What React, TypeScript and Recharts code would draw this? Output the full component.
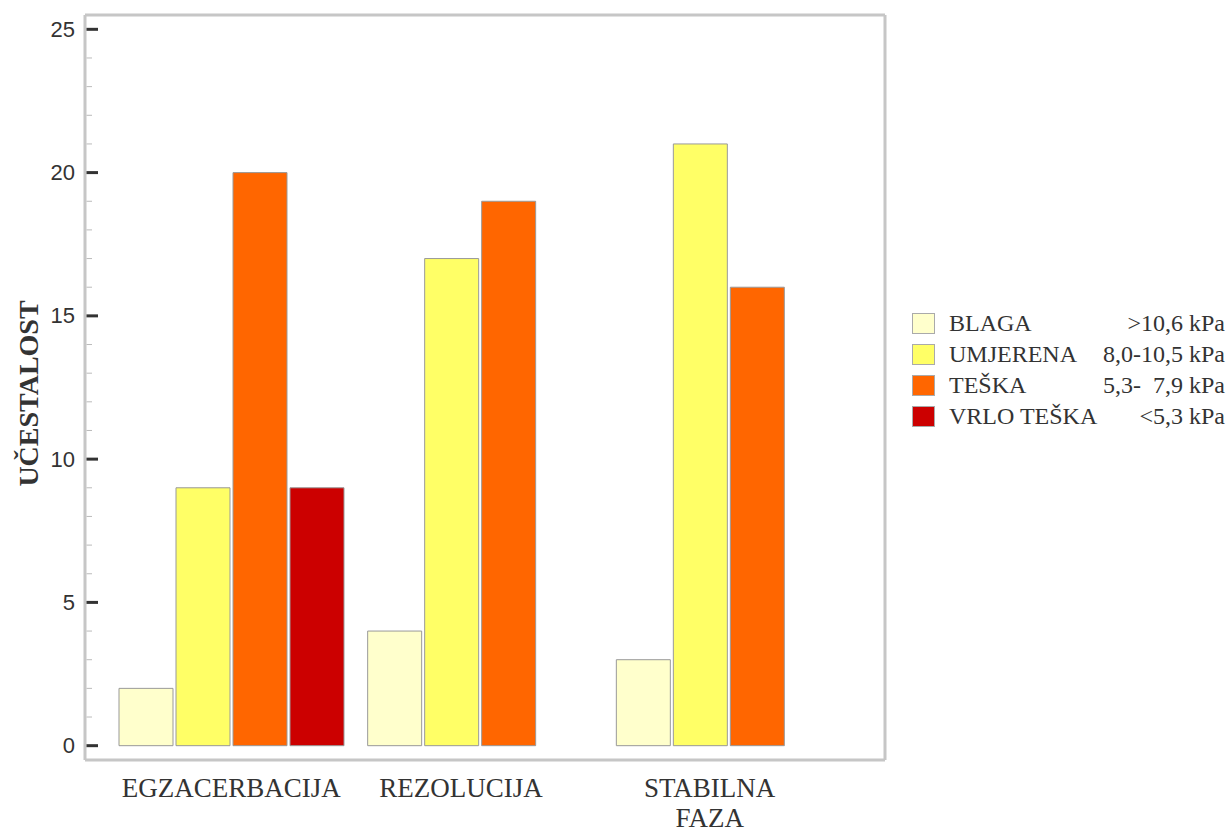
import { BarChart, Bar, XAxis, YAxis, Legend } from "recharts";

const categories = ["EGZACERBACIJA", "REZOLUCIJA", "STABILNA FAZA"];
const blaga = [2, 4, 3];
const umjerena = [9, 17, 21];
const teska = [20, 19, 16];
const vrloTeska = [9, null, null];

const seriesKeys = ["blaga", "umjerena", "teska", "vrloTeska"];
const seriesNames = ["BLAGA", "UMJERENA", "TEŠKA", "VRLO TEŠKA"];
const seriesRanges = [">10,6 kPa", "8,0-10,5 kPa", "5,3-  7,9 kPa", "<5,3 kPa"];
const seriesColors = ["#FFFFCC", "#FFFF66", "#FF6600", "#CC0000"];

const yTicks = [0, 1, 2, 3, 4, 5, 6, 7, 8, 9, 10, 11, 12, 13, 14, 15, 16, 17, 18, 19, 20, 21, 22, 23, 24, 25];

const data = categories.map((name, i) => ({
  name,
  blaga: blaga[i],
  umjerena: umjerena[i],
  teska: teska[i],
  vrloTeska: vrloTeska[i],
}));

const boxColor = "#c6c6c6";
const serif = "'Liberation Serif', 'Times New Roman', serif";
const sans = "'Liberation Sans', Arial, sans-serif";

function YTick({ x, y, payload }: any) {
  const v = payload.value;
  const major = v % 5 === 0;
  return (
    <g>
      {major ? (
        <>
          <line x1={x + 1.5} x2={x + 13} y1={y} y2={y} stroke="#333" strokeWidth={3} />
          <text x={x - 10} y={y} textAnchor="end" dominantBaseline="central" fontFamily={sans} fontSize={22} fill="#333">
            {v}
          </text>
        </>
      ) : (
        <line x1={x + 1.5} x2={x + 7} y1={y} y2={y} stroke="#bbb" strokeWidth={1} />
      )}
    </g>
  );
}

function XTick({ x, y, payload, index }: any) {
  // labels sit over the bars that are present, not the empty slot
  const missing = [blaga, umjerena, teska, vrloTeska].filter((s) => s[index] == null).length;
  const cx = x - missing * 19;
  const lines = String(payload.value).split(" ");
  return (
    <text x={cx} y={y + 37} textAnchor="middle" fontFamily={serif} fontSize={27} fill="#333">
      {lines.map((l, i) => (
        <tspan key={i} x={cx} dy={i === 0 ? 0 : 30}>
          {l}
        </tspan>
      ))}
    </text>
  );
}

function YLabel({ viewBox }: any) {
  const x = viewBox.x + 3;
  const y = viewBox.y + viewBox.height / 2 + 6;
  return (
    <text
      x={x}
      y={y}
      transform={`rotate(-90 ${x} ${y})`}
      textAnchor="middle"
      dominantBaseline="central"
      fontFamily={serif}
      fontWeight="bold"
      fontSize={28}
      fill="#333"
    >
      UČESTALOST
    </text>
  );
}

function LegendBox() {
  return (
    <div style={{ fontFamily: serif, fontSize: 24, color: "#333" }}>
      {seriesNames.map((n, i) => (
        <div key={n} style={{ display: "flex", alignItems: "center", height: 31 }}>
          <div
            style={{
              width: 21,
              height: 19,
              background: seriesColors[i],
              border: "1px solid #aaa",
              flex: "none",
            }}
          />
          <span style={{ marginLeft: 14, whiteSpace: "pre" }}>{n}</span>
          <span style={{ marginLeft: "auto", whiteSpace: "pre" }}>{seriesRanges[i]}</span>
        </div>
      ))}
    </div>
  );
}

export default function App() {
  return (
    <div style={{ position: "absolute", left: 0, top: 0, width: 1231, height: 832, background: "#fff" }}>
      <BarChart
        width={1231}
        height={832}
        data={data}
        margin={{ top: 14, right: 345, bottom: 12, left: 25 }}
        barCategoryGap={12}
        barGap={3}
      >
        <XAxis
          dataKey="name"
          height={60}
          padding={{ left: 22, right: 32 }}
          tickLine={false}
          tickSize={0}
          tickMargin={0}
          axisLine={{ stroke: boxColor, strokeWidth: 3 }}
          tick={<XTick />}
          interval={0}
        />
        <XAxis
          xAxisId="top"
          dataKey="name"
          orientation="top"
          height={1}
          tick={false}
          tickLine={false}
          axisLine={{ stroke: boxColor, strokeWidth: 3 }}
        />
        <YAxis
          type="number"
          domain={[-0.5, 25.5]}
          ticks={yTicks}
          interval={0}
          allowDataOverflow
          width={60}
          tickLine={false}
          tickSize={0}
          tickMargin={0}
          axisLine={{ stroke: boxColor, strokeWidth: 3 }}
          tick={<YTick />}
          label={<YLabel />}
        />
        <YAxis
          yAxisId="right"
          orientation="right"
          type="number"
          domain={[-0.5, 25.5]}
          width={1}
          tick={false}
          tickLine={false}
          axisLine={{ stroke: boxColor, strokeWidth: 3 }}
        />
        <Legend
          layout="horizontal"
          verticalAlign="middle"
          wrapperStyle={{ left: 912, top: 308, width: 313 }}
          content={<LegendBox />}
        />
        {seriesKeys.map((k, i) => (
          <Bar
            key={k}
            dataKey={k}
            name={seriesNames[i]}
            fill={seriesColors[i]}
            stroke="#999"
            strokeWidth={1}
            isAnimationActive={false}
          />
        ))}
      </BarChart>
    </div>
  );
}
